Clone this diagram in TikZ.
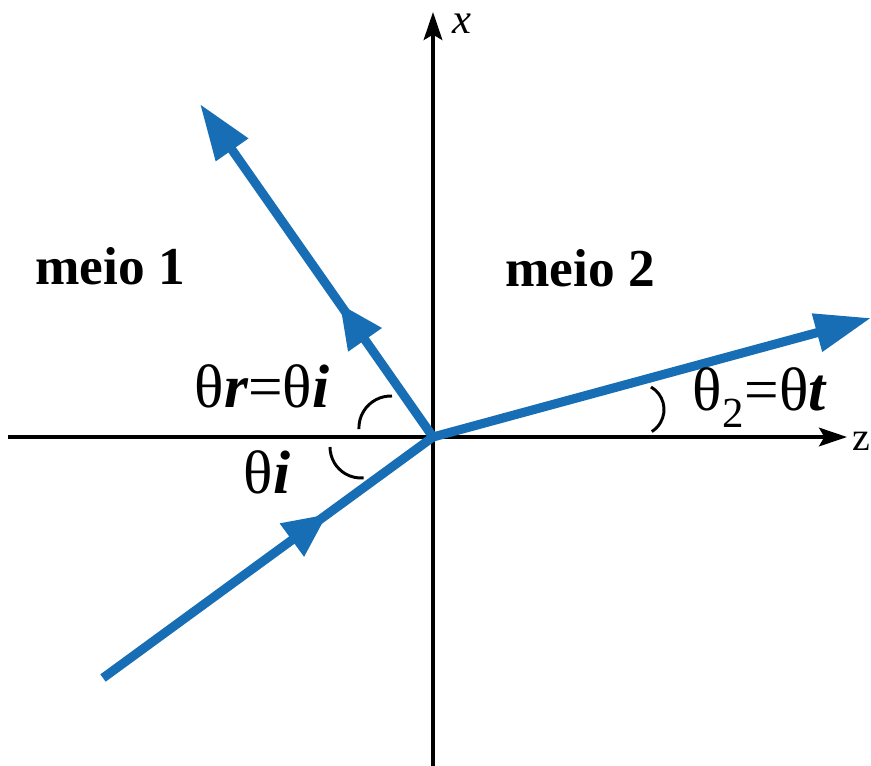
\documentclass[tikz,border=0pt]{standalone}
\usepackage{fontspec}
\setmainfont{Liberation Serif}
\usetikzlibrary{arrows.meta,decorations.markings}
\definecolor{raybl}{RGB}{24,110,180}
\begin{document}
\begin{tikzpicture}[x=0.75pt,y=-0.75pt,
  axis/.style={line width=2.3pt,-{Stealth[length=21pt,width=14pt,inset=4pt]}},
  ray/.style={draw=raybl,line width=6.8pt},
  rayhead/.style={-{Triangle[length=42pt,width=28pt]},raybl},
  midarrow/.style={postaction={decorate},decoration={markings,mark=at position #1 with {\arrow[raybl]{Triangle[length=33pt,width=29pt]}}}},
  anglearc/.style={line width=2.2pt},
  medium/.style={font=\fontsize{40}{44}\selectfont\bfseries},
  anglelbl/.style={font=\fontsize{46}{50}\selectfont}
]
\useasboundingbox (0,0) rectangle (871,765);
% coordinates
\coordinate (O) at (433,437);
\coordinate (zl) at (8,437);
\coordinate (zr) at (847,437);
\coordinate (xb) at (433,770);
\coordinate (xt) at (433,12);
\coordinate (inc) at (103,678);
\coordinate (refl) at (200,104);
\coordinate (trans) at (871,318);
% axes
\draw[axis] (zl) -- (zr);
\draw[axis] (xb) -- (xt);
\node[anchor=west,inner sep=0pt,font=\fontsize{30}{32}\selectfont] (zlab) at (852,441) {z};
\node[inner sep=0pt,font=\fontsize{32}{34}\selectfont\itshape] (xlab) at (462,24) {x};
% rays
\draw[ray,midarrow=0.68] (inc) -- (O);
\draw[ray,rayhead,midarrow=0.40] (O) -- (refl);
\draw[ray,rayhead] (O) -- (trans);
% angle arcs
\draw[anglearc] (392,396) arc[start angle=-88,end angle=-182,radius=32];
\draw[anglearc] (330,447) arc[start angle=180,end angle=85,radius=31];
\draw[anglearc] (651,387) arc[start angle=-60,end angle=58,radius=26];
% labels
\node[medium] (m1) at (110,266) {meio 1};
\node[medium] (m2) at (580,268) {meio 2};
\node[anglelbl] (lr) at (262,386) {θ\textbf{\textit{r}}=θ\textbf{\textit{i}}};
\node[anglelbl] (li) at (267,472) {θ\textbf{\textit{i}}};
\node[anglelbl] (lt) at (760,398) {θ\textsubscript{2}=θ\textbf{\textit{t}}};
\end{tikzpicture}
\end{document}
